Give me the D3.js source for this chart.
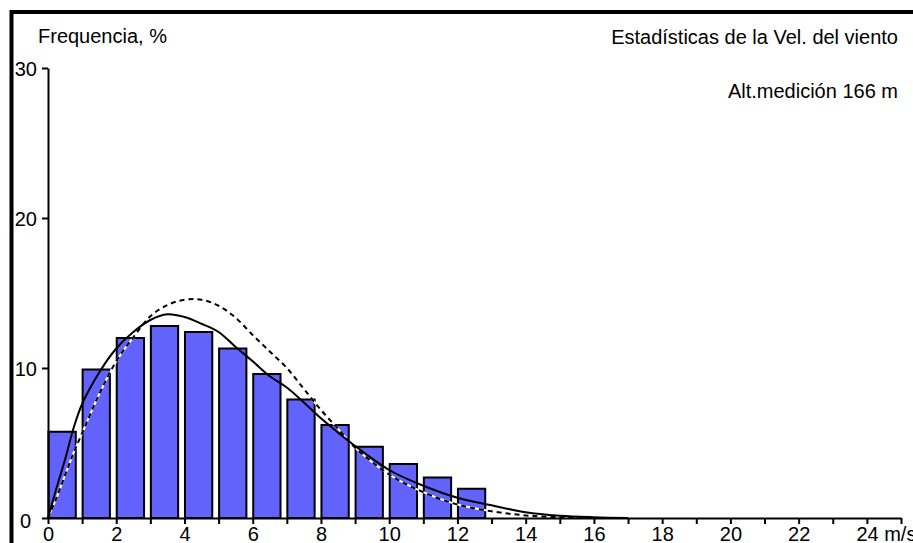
<!DOCTYPE html>
<html>
<head>
<meta charset="utf-8">
<script src="https://cdn.jsdelivr.net/npm/d3@7"></script>
<style>
  html, body { margin: 0; padding: 0; background: #fff; overflow: hidden; }
  svg { display: block; font-family: Arial, "Liberation Sans", sans-serif; }
</style>
</head>
<body>
<div id="chart"></div>
<script>
// measured frequency per 1 m/s bin (%)
const binStarts = [0, 1, 2, 3, 4, 5, 6, 7, 8, 9, 10, 11, 12];
const binFreq = [5.75, 9.9, 12.0, 12.8, 12.4, 11.3, 9.6, 7.9, 6.2, 4.75, 3.6, 2.7, 1.95];

// solid curve
const solidSpeed = [0, 0.25, 0.5, 0.75, 1, 1.5, 2, 2.5, 3, 3.5, 4, 4.5, 5, 5.5, 6, 6.5, 7, 7.5, 8, 8.5, 9, 10, 11, 12, 13, 14, 15, 16, 17];
const solidFreq = [0, 2.0, 3.9, 6.0, 7.6, 9.7, 11.3, 12.4, 13.2, 13.58, 13.4, 12.95, 12.4, 11.4, 10.45, 9.45, 8.7, 7.7, 6.65, 5.7, 4.8, 3.2, 2.15, 1.35, 0.85, 0.38, 0.15, 0.05, 0];

// dashed curve
const dashSpeed = [0, 0.25, 0.5, 0.75, 1, 1.5, 2, 2.5, 3, 3.5, 4, 4.5, 5, 5.5, 6, 6.5, 7, 7.5, 8, 8.5, 9, 10, 11, 12, 13, 14, 15, 16];
const dashFreq = [0, 1.35, 2.85, 4.35, 5.65, 8.25, 10.45, 12.05, 13.45, 14.2, 14.55, 14.55, 14.15, 13.35, 12.2, 11.1, 10.0, 8.6, 7.2, 5.95, 4.7, 2.9, 1.72, 0.9, 0.45, 0.17, 0.05, 0];

const yTicks = [0, 10, 20, 30];
const xTicks = d3.range(0, 26);
const xLabels = [0, 2, 4, 6, 8, 10, 12, 14, 16, 18, 20, 22, 24];

const W = 913, H = 543;

const svg = d3.select("#chart")
    .append("svg")
    .attr("width", W)
    .attr("height", H);

svg.append("rect").attr("width", W).attr("height", H).attr("fill", "#fff");

// outer frame (runs off the right and bottom)
svg.append("rect")
    .attr("x", 11.5).attr("y", 12)
    .attr("width", W + 20).attr("height", H + 20)
    .attr("fill", "none")
    .attr("stroke", "#000")
    .attr("stroke-width", 4);

const x = d3.scaleLinear().domain([0, 25]).range([48, 901]);
const y = d3.scaleLinear().domain([0, 30]).range([518, 68]);

// bars
svg.selectAll(".bar")
    .data(binStarts.map((s, i) => ({ s, v: binFreq[i] })))
    .join("rect")
    .attr("class", "bar")
    .attr("x", d => x(d.s) + 0.5)
    .attr("y", d => y(d.v))
    .attr("width", d => x(d.s + 0.8) - x(d.s))
    .attr("height", d => y(0) - y(d.v))
    .attr("fill", "#6262fc")
    .attr("stroke", "#000")
    .attr("stroke-width", 2);

const line = d3.line()
    .x(d => x(d[0]))
    .y(d => y(d[1]))
    .curve(d3.curveCatmullRom.alpha(0.5));

const dashPts = dashSpeed.map((s, i) => [s, dashFreq[i]]);
const solidPts = solidSpeed.map((s, i) => [s, solidFreq[i]]);

svg.append("path")
    .attr("d", line(dashPts))
    .attr("fill", "none")
    .attr("stroke", "#fff")
    .attr("stroke-width", 2);

svg.append("path")
    .attr("d", line(dashPts))
    .attr("fill", "none")
    .attr("stroke", "#000")
    .attr("stroke-width", 2)
    .attr("stroke-dasharray", "5,4");

svg.append("path")
    .attr("d", line(solidPts))
    .attr("fill", "none")
    .attr("stroke", "#000")
    .attr("stroke-width", 2);

// y axis
const yAxis = svg.append("g")
    .attr("transform", `translate(${x(0)},0)`)
    .call(d3.axisLeft(y).tickValues(yTicks).tickSize(6).tickPadding(5).tickSizeOuter(0));
yAxis.select(".domain").attr("stroke-width", 2);
yAxis.selectAll(".tick line").attr("stroke-width", 2);
yAxis.selectAll(".tick text")
    .style("font-size", "20px")
    .attr("fill", "#000")
    .attr("dx", d => d === 0 ? -6 : 0)
    .attr("dy", d => d === 0 ? "0.45em" : "0.35em");

// x axis
const xAxis = svg.append("g")
    .attr("transform", `translate(0,${y(0)})`)
    .call(d3.axisBottom(x).tickValues(xTicks).tickSize(6).tickPadding(3).tickSizeOuter(0)
        .tickFormat(d => xLabels.includes(d) ? (d === 24 ? "24 m/s" : d) : ""));
xAxis.select(".domain").attr("stroke-width", 2);
xAxis.selectAll(".tick line").attr("stroke-width", 2);
xAxis.selectAll(".tick text")
    .style("font-size", "20px")
    .attr("fill", "#000")
    .attr("text-anchor", d => d === 24 ? "start" : "middle")
    .attr("x", d => d === 24 ? -11 : 0);

// titles
svg.append("text")
    .attr("x", 38).attr("y", 43)
    .style("font-size", "20px")
    .text("Frequencia, %");

svg.append("text")
    .attr("x", 898).attr("y", 44)
    .attr("text-anchor", "end")
    .style("font-size", "20px")
    .text("Estadísticas de la Vel. del viento");

svg.append("text")
    .attr("x", 898).attr("y", 98)
    .attr("text-anchor", "end")
    .style("font-size", "20px")
    .text("Alt.medición 166 m");
</script>
</body>
</html>
